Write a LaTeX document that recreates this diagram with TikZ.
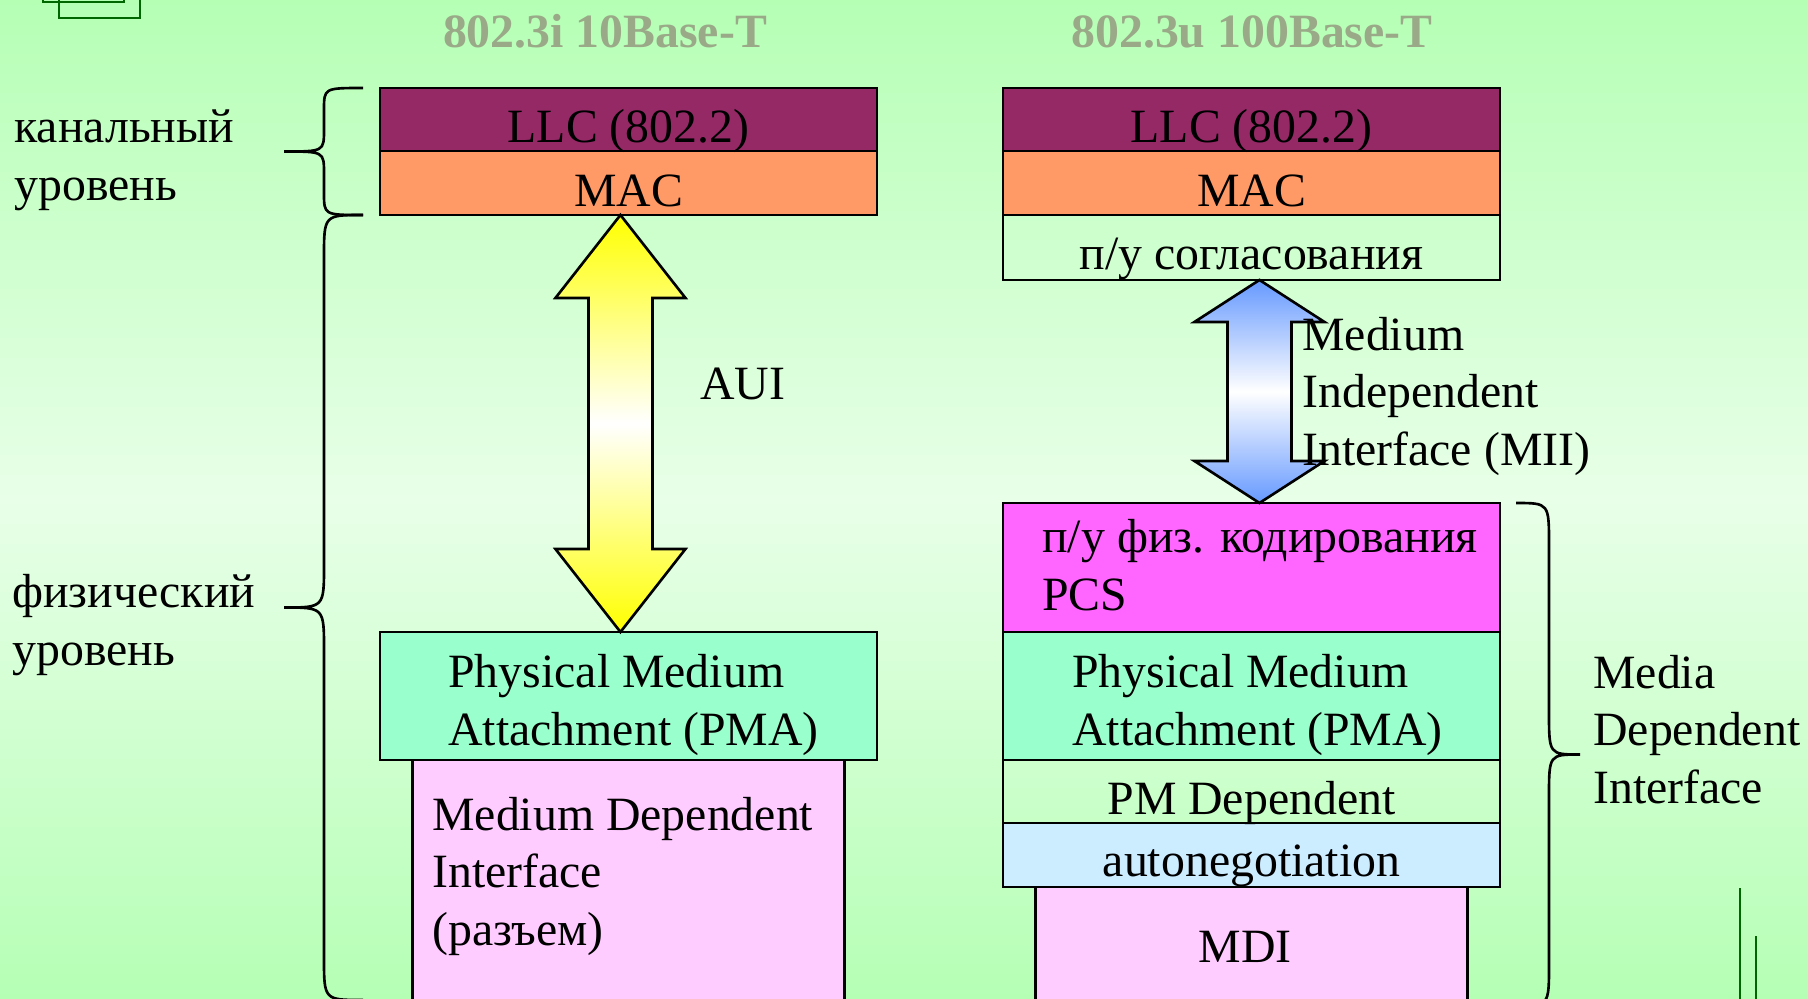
\documentclass[tikz,border=0pt]{standalone}
\usepackage{fontspec}
\setmainfont{Liberation Serif}
\usetikzlibrary{calc,positioning}
\definecolor{Bg}{HTML}{B5FFB5}
\definecolor{BgLight}{HTML}{E8FFE8}
\definecolor{Title}{HTML}{9AAA88}
\definecolor{Llc}{HTML}{942966}
\definecolor{Mac}{HTML}{FF9966}
\definecolor{Pma}{HTML}{99FFCC}
\definecolor{Pcs}{HTML}{FF66FF}
\definecolor{Auto}{HTML}{CCECFF}
\definecolor{Mdi}{HTML}{FFCCFF}
\definecolor{Aui}{HTML}{FFFF00}
\definecolor{Mii}{HTML}{6699FF}
\definecolor{Deco}{HTML}{006600}

% curly brace: end x, spine x, tip x, top y, bottom y, curl
\newcommand\curlybrace[6]{%
  \pgfmathsetmacro\bmid{(#4+#5)/2}
  \draw[brc] (#1,#4) .. controls (#2,#4) .. (#2,#4+#6) -- (#2,\bmid-#6)
    .. controls (#2,\bmid) .. (#3,\bmid) .. controls (#2,\bmid) .. (#2,\bmid+#6)
    -- (#2,#5-#6) .. controls (#2,#5) .. (#1,#5);}

% block double arrow: top tip, bottom tip, head length, colour
\newcommand\dblarrow[4]{%
  \draw[blockarrow, top color=#4, bottom color=#4, middle color=white]
    (#1) -- ++(65,#3) -- ++(-33,0) -- ($(#2)+(32,-#3)$) -- ++(33,0) -- (#2)
    -- ++(-65,-#3) -- ++(33,0) -- ($(#1)+(-32,#3)$) -- ++(-33,0) -- cycle;}

\begin{document}
\begin{tikzpicture}[x=0.02cm, y=-0.02cm,
    layer/.style={draw=black, line width=1.5pt, outer sep=0pt, inner sep=0pt,
      minimum width=9.94cm},
    txt/.style={font=\fontsize{27.2}{32.7}\selectfont, inner sep=0pt, align=left},
    ttl/.style={font=\fontsize{27.2}{32.7}\selectfont\bfseries, text=Title,
      inner sep=0pt},
    brc/.style={draw=black, line width=1.5pt},
    deco/.style={draw=Deco, line width=1.4pt},
    blockarrow/.style={draw=black, line width=1.5pt, line join=miter}]
  \useasboundingbox (0,0) rectangle (1808,998);
  \clip (0,0) rectangle (1808,998);
  \shade[top color=Bg, bottom color=Bg, middle color=BgLight]
    (0,0) rectangle (1808,998);

  % corner decoration
  \draw[deco] (43,-30) rectangle (124,2);
  \draw[deco] (59,-30) rectangle (140,18);
  \draw[deco] (1740,888) -- (1740,1010);
  \draw[deco] (1756,936) -- (1756,1010);

  % titles
  \node[ttl, anchor=base] (ttl1) at (605,47) {802.3i 10Base-T};
  \node[ttl, anchor=base] (ttl2) at (1252,47) {802.3u 100Base-T};

  % 10Base-T stack
  \node[layer, fill=Llc, minimum height=1.26cm, anchor=north west] (llc1) at (380,88) {};
  \node[layer, fill=Mac, minimum height=1.28cm, below=0pt of llc1] (mac1) {};
  \node[layer, fill=Pma, minimum height=2.56cm, anchor=north west] (pma1) at (380,632) {};
  \node[layer, fill=Mdi, minimum height=6cm, minimum width=8.64cm, below=0pt of pma1] (mdi1) {};

  % 100Base-T stack
  \node[layer, fill=Llc, minimum height=1.26cm, anchor=north west] (llc2) at (1003,88) {};
  \node[layer, fill=Mac, minimum height=1.28cm, below=0pt of llc2] (mac2) {};
  \node[layer, minimum height=1.3cm, below=0pt of mac2] (rs) {};
  \node[layer, fill=Pcs, minimum height=2.58cm, anchor=north west] (pcs) at (1003,503) {};
  \node[layer, fill=Pma, minimum height=2.56cm, below=0pt of pcs] (pma2) {};
  \node[layer, minimum height=1.26cm, below=0pt of pma2] (pmd) {};
  \node[layer, fill=Auto, minimum height=1.28cm, below=0pt of pmd] (autoneg) {};
  \node[layer, fill=Mdi, minimum height=4cm, minimum width=8.64cm, below=0pt of autoneg] (mdi2) {};

  % interfaces
  \coordinate (auiTop) at ($(mac1.south)+(-8,0)$);
  \coordinate (auiBot) at ($(pma1.north)+(-8,0)$);
  \dblarrow{auiTop}{auiBot}{83}{Aui}
  \coordinate (miiTop) at ($(rs.south)+(8,0)$);
  \coordinate (miiBot) at ($(pcs.north)+(8,0)$);
  \dblarrow{miiTop}{miiBot}{42}{Mii}

  % braces
  \curlybrace{363}{324}{284}{88}{215}{22}
  \curlybrace{363}{324}{284}{215}{1000}{42}
  \curlybrace{1516}{1549}{1580}{503}{1006}{42}

  % labels (base = last line)
  \node[txt, anchor=base west] (dll) at (14,200) {канальный\\уровень};
  \node[txt, anchor=base west] (phy) at (12,665) {физический\\уровень};
  \node[txt, anchor=base] (llc1t) at ($(llc1.south)+(0,-8)$) {LLC (802.2)};
  \node[txt, anchor=base] (mac1t) at ($(mac1.south)+(0,-8)$) {MAC};
  \node[txt, anchor=base west] (auit) at (700,399) {AUI};
  \node[txt, anchor=base west] (pma1t) at (448,745) {Physical Medium\\Attachment (PMA)};
  \node[txt, anchor=base west] (mdi1t) at (432,945) {Medium Dependent\\Interface\\(разъем)};
  \node[txt, anchor=base] (llc2t) at ($(llc2.south)+(0,-8)$) {LLC (802.2)};
  \node[txt, anchor=base] (mac2t) at ($(mac2.south)+(0,-8)$) {MAC};
  \node[txt, anchor=base] (rst) at ($(rs.south)+(0,-10)$) {п/у согласования};
  \node[txt, anchor=base west] (miit) at (1302,465) {Medium\\Independent\\Interface (MII)};
  \node[txt, anchor=base west] (pcst) at (1042,610) {п/у физ. кодирования\\PCS};
  \node[txt, anchor=base west] (pma2t) at (1072,745) {Physical Medium\\Attachment (PMA)};
  \node[txt, anchor=base] (pmdt) at ($(pmd.south)+(0,-8)$) {PM Dependent};
  \node[txt, anchor=base] (autot) at ($(autoneg.south)+(0,-10)$) {autonegotiation};
  \node[txt, anchor=base] (mdi2t) at (1245,962) {MDI};
  \node[txt, anchor=base west] (mdit) at (1593,803) {Media\\Dependent\\Interface};
\end{tikzpicture}
\end{document}
